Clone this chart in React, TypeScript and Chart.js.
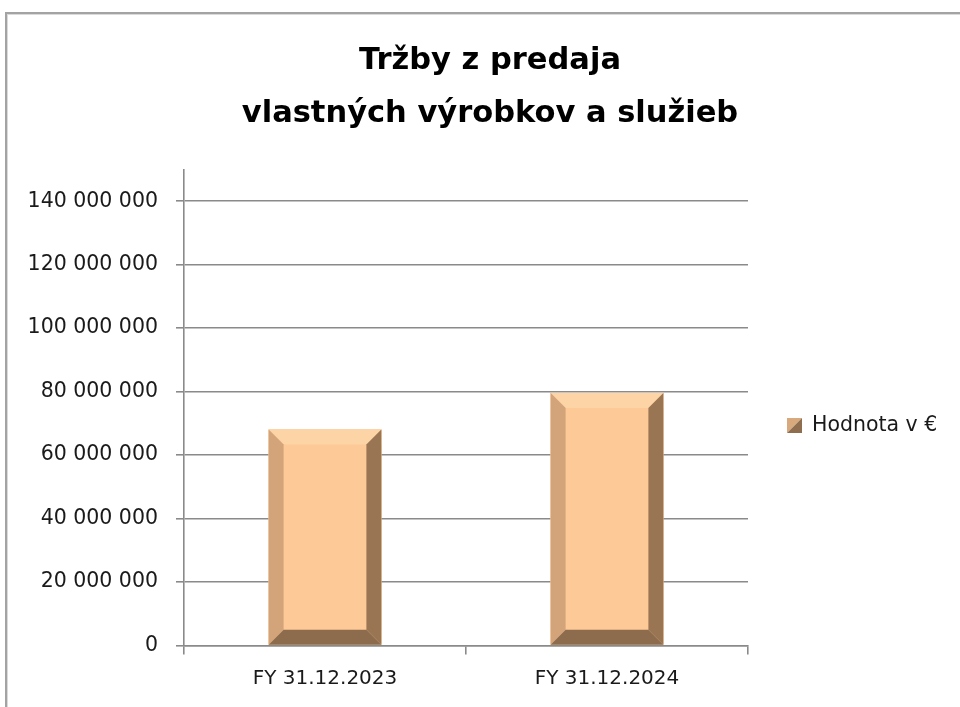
import { useEffect, useRef } from "react";
import { Chart, registerables } from "chart.js";

Chart.register(...registerables);

const categories = ["FY 31.12.2023", "FY 31.12.2024"];
const values = [68100000, 79600000];
const seriesLabel = "Hodnota v €";
const titleLines = ["Tržby z predaja", "vlastných výrobkov a služieb"];
const yTicks = [0, 20000000, 40000000, 60000000, 80000000, 100000000, 120000000, 140000000];
const yMax = 150000000;

const FONT = "'DejaVu Sans', sans-serif";
const GRID = "#8a8a8a";
const GRID_W = 1.6;

function fmt(v: number): string {
  return String(Math.round(v)).replace(/\B(?=(\d{3})+(?!\d))/g, " ");
}

function poly(ctx: CanvasRenderingContext2D, pts: number[][], color: string) {
  ctx.beginPath();
  ctx.moveTo(pts[0][0], pts[0][1]);
  for (let i = 1; i < pts.length; i++) ctx.lineTo(pts[i][0], pts[i][1]);
  ctx.closePath();
  ctx.fillStyle = color;
  ctx.fill();
}

const framePlugin = {
  id: "frame",
  beforeDraw(chart: any) {
    const ctx = chart.ctx as CanvasRenderingContext2D;
    ctx.save();
    ctx.fillStyle = "#ffffff";
    ctx.fillRect(0, 0, chart.width, chart.height);
    ctx.fillStyle = "#a3a3a3";
    ctx.fillRect(5, 12, 2, chart.height);
    ctx.fillRect(5, 12, chart.width, 2);
    ctx.fillStyle = "#dadada";
    ctx.fillRect(7, 14, 1, chart.height);
    ctx.fillRect(7, 14, chart.width, 1);
    ctx.restore();
  },
};

const bevelPlugin = {
  id: "bevel",
  afterDatasetsDraw(chart: any) {
    const ctx = chart.ctx as CanvasRenderingContext2D;
    const meta = chart.getDatasetMeta(0);
    ctx.save();
    meta.data.forEach((el: any) => {
      const { x, y, base, width } = el.getProps(["x", "y", "base", "width"], true);
      const l = x - width / 2;
      const r = x + width / 2;
      const t = y;
      const b = base;
      const bv = 15;
      ctx.fillStyle = "#fcc997";
      ctx.fillRect(l, t, r - l, b - t);
      poly(ctx, [[l, t], [r, t], [r - bv, t + bv], [l + bv, t + bv]], "#fdd4a6");
      poly(ctx, [[l, t], [l + bv, t + bv], [l + bv, b - bv], [l, b]], "#d3a479");
      poly(ctx, [[r, t], [r, b], [r - bv, b - bv], [r - bv, t + bv]], "#9a7554");
      poly(ctx, [[l, b], [l + bv, b - bv], [r - bv, b - bv], [r, b]], "#8d6c4e");
    });
    ctx.restore();
  },
};

const legendPlugin = {
  id: "customLegend",
  afterDraw(chart: any) {
    const ctx = chart.ctx as CanvasRenderingContext2D;
    const label = chart.data.datasets[0].label as string;
    const mx = 787;
    const my = 418;
    const s = 15;
    ctx.save();
    poly(ctx, [[mx, my], [mx + s, my], [mx, my + s]], "#d7a97d");
    poly(ctx, [[mx + s, my], [mx + s, my + s], [mx, my + s]], "#8f6d4f");
    ctx.fillStyle = "#1a1a1a";
    ctx.font = `20.5px ${FONT}`;
    ctx.textBaseline = "middle";
    ctx.textAlign = "left";
    ctx.fillText(label, 812, my + s / 2);
    ctx.restore();
  },
};

export default function App() {
  const ref = useRef<HTMLCanvasElement | null>(null);

  useEffect(() => {
    if (!ref.current) return;
    const chart = new Chart(ref.current, {
      type: "bar",
      data: {
        labels: categories,
        datasets: [
          {
            label: seriesLabel,
            data: values,
            backgroundColor: "#fcc997",
            borderWidth: 0,
            barPercentage: 0.4,
            categoryPercentage: 1,
            yAxisID: "y",
          },
        ],
      },
      options: {
        responsive: false,
        animation: false,
        devicePixelRatio: 1,
        layout: { padding: { left: 20, right: 0, top: 0, bottom: 0 } },
        plugins: {
          legend: { display: false },
          tooltip: { enabled: false },
          title: {
            display: true,
            text: titleLines,
            color: "#000000",
            font: { family: FONT, size: 30.5, weight: "bold", lineHeight: 53 / 30.5 },
            padding: { top: 35, bottom: 28.5 },
          },
        },
        scales: {
          x: {
            afterFit: (s: any) => {
              s.height = 61.5;
            },
            grid: { drawOnChartArea: false, drawTicks: true, tickLength: 9, color: GRID, lineWidth: GRID_W, offset: true },
            border: { display: true, color: GRID, width: GRID_W },
            ticks: { color: "#1a1a1a", font: { family: FONT, size: 20 }, padding: 12 },
          },
          y: {
            min: 0,
            max: yMax,
            afterBuildTicks: (s: any) => {
              s.ticks = yTicks.map((v) => ({ value: v }));
            },
            afterFit: (s: any) => {
              s.width = 164;
            },
            grid: { color: GRID, tickLength: 8, lineWidth: GRID_W },
            border: { display: true, color: GRID, width: GRID_W },
            ticks: {
              color: "#1a1a1a",
              font: { family: FONT, size: 20.5 },
              padding: 18,
              callback: (v: any) => fmt(Number(v)),
            },
          },
          y2: {
            type: "linear",
            position: "right",
            display: true,
            afterFit: (s: any) => {
              s.width = 212;
            },
            grid: { display: false, drawTicks: false },
            border: { display: false },
            ticks: { display: false },
          },
        },
      },
      plugins: [framePlugin, bevelPlugin, legendPlugin],
    });
    return () => chart.destroy();
  }, []);

  return (
    <canvas
      ref={ref}
      width={960}
      height={707}
      style={{ position: "fixed", left: 0, top: 0, width: 960, height: 707 }}
    />
  );
}
